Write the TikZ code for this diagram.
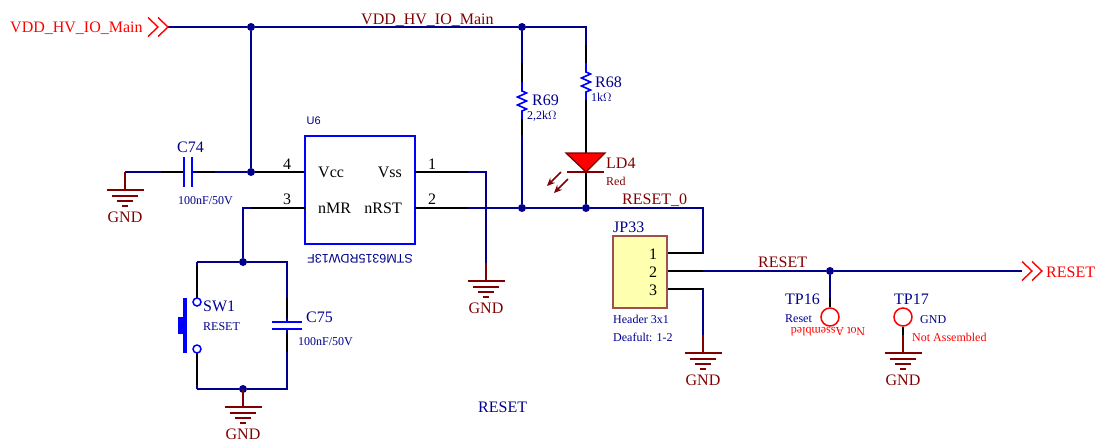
\documentclass[tikz,border=0pt]{standalone}
\usepackage{fontspec}
\setmainfont{Liberation Serif}
\setsansfont{Liberation Sans}
\usetikzlibrary{arrows.meta}

\definecolor{wirecol}{HTML}{00008C}
\definecolor{darkred}{HTML}{800000}
\definecolor{hdrfill}{HTML}{FFFFB0}
\definecolor{hdredge}{HTML}{A05050}

\tikzset{
	wire/.style={wirecol, line width=1.5pt},
	pinwire/.style={black, line width=1.5pt},
	partline/.style={blue, line width=1.6pt},
	dot/.style={circle, fill=wirecol, inner sep=0pt, minimum size=8pt},
	big/.style={font=\fontsize{16}{18}\selectfont, anchor=base west, inner sep=0pt},
	small/.style={font=\fontsize{12}{14}\selectfont, anchor=base west, inner sep=0pt},
	gndsym/.pic={
		\draw[darkred, line width=1.5pt] (0,0) -- (0,18);
		\draw[darkred, line width=1.5pt] (-18.5,18) -- (18.5,18);
		\draw[darkred, line width=1.5pt] (-13,24) -- (13,24);
		\draw[darkred, line width=1.5pt] (-8,29) -- (8,29);
		\draw[darkred, line width=1.5pt] (-3,34) -- (3,34);
		\node[big, anchor=base, darkred] (-txt) at (0,50) {GND};
	},
	chevrons/.pic={
		\draw[red, line width=1.4pt] (0,-9.5) -- (10,0) -- (0,9.5);
		\draw[red, line width=1.4pt] (10,-9.5) -- (20,0) -- (10,9.5);
	},
	reszig/.pic={
		\draw[partline] (0,0) -- (0,9) -- (4.5,11) -- (-4.5,15) -- (4.5,19) -- (-4.5,23) -- (4.5,27) -- (0,29) -- (0,37);
	},
}

\begin{document}
\begin{tikzpicture}[x=1pt, y=-1pt]
	\useasboundingbox (0,0) rectangle (1104,440);

	% 1. Net names (the wires run over their underscores)
	\node[big, darkred] (tVDDnet) at (361,24.5) {VDD\_HV\_IO\_Main};
	\node[big, darkred] (tRST0) at (622,204.5) {RESET\_0};

	% 2. Junctions
	\node[dot] (J1) at (251,27) {};
	\node[dot] (J2) at (522,27) {};
	\node[dot] (J3) at (251,172) {};
	\node[dot] (J4) at (522,208) {};
	\node[dot] (J5) at (586,208) {};
	\node[dot] (J6) at (243,262) {};
	\node[dot] (J7) at (243,389) {};
	\node[dot] (J8) at (830,271) {};

	% 3. Parts
	\node[draw=blue, line width=1.6pt, minimum width=110pt, minimum height=108pt, inner sep=0pt] (U6) at (360,190) {};
	\node[draw=hdredge, fill=hdrfill, line width=1.2pt, minimum width=54pt, minimum height=72pt, inner sep=0pt] (JP33) at (640,272) {};
	\node[circle, draw=red, line width=1.5pt, minimum size=18pt, inner sep=0pt] (TP16) at (830,317) {};
	\node[circle, draw=red, line width=1.5pt, minimum size=18pt, inner sep=0pt] (TP17) at (903,317) {};

	% Free ends of the wires
	\coordinate (VDDin) at (168,27);
	\coordinate (VDDcor) at (586,27);
	\coordinate (R69top) at (522,63);
	\coordinate (R69bot) at (522,119);
	\coordinate (R68top) at (586,63);
	\coordinate (R68bot) at (586,100);
	\coordinate (LEDtop) at (586,153);
	\coordinate (LEDbot) at (586,172);
	\coordinate (C74a) at (184,172);
	\coordinate (C74b) at (192,172);
	\coordinate (C75a) at (287,322);
	\coordinate (C75b) at (287,329);
	\coordinate (GNDa) at (125,172);
	\coordinate (GNDb) at (486,263);
	\coordinate (GNDc) at (703,335);
	\coordinate (GNDd) at (243,389);
	\coordinate (GNDe) at (903,335);
	\coordinate (RSTout) at (1022,271);

	% 4. Wires
	\draw[wire] (VDDin) -- (J1) -- (J2) -- (VDDcor) -- (R68top);
	\draw[wire] (J1) -- (J3);
	\draw[wire] (J2) -- (R69top);
	\draw[wire] (R69bot) -- (J4);
	\draw[wire] (U6.east |- J4) -- (J4) -- (J5) -- (703,208) -- (703,253) -- (JP33.east |- 0,253);
	\draw[wire] (U6.east |- 0,172) -- (GNDb |- 0,172) -- (GNDb);
	\draw[wire] (GNDa) -- (C74a);
	\draw[wire] (C74b) -- (J3) -- (U6.west |- J3);
	\draw[wire] (U6.west |- 0,208) -- (J6 |- 0,208) -- (J6);
	\draw[wire] (197,262) -- (J6) -- (C75a |- J6) -- (C75a);
	\draw[wire] (C75b) -- (C75b |- J7) -- (J7) -- (197,389);
	\draw[wire] (197,262) -- (197,302);
	\draw[wire] (197,389) -- (197,349);
	\draw[wire] (JP33.east |- J8) -- (J8) -- (RSTout);
	\draw[wire] (J8) -- (TP16);
	\draw[wire] (JP33.east |- 0,289) -- (703,289) -- (GNDc);

	% Black stubs over the wires
	\draw[pinwire] (161,172) -- (C74a);
	\draw[pinwire] (197,172) -- (215,172);
	\draw[pinwire] (J3) -- (U6.west |- J3);
	\draw[pinwire] (251,208) -- (305,208);
	\draw[pinwire] (415,172) -- (468,172);
	\draw[pinwire] (415,208) -- (468,208);
	\draw[pinwire] (R69top) -- (522,82);
	\draw[pinwire] (R69bot) -- (522,135);
	\draw[pinwire] (586,45) -- (R68top);
	\draw[pinwire] (R68bot) -- (LEDtop);
	\draw[pinwire] (LEDbot) -- (J5);
	\draw[pinwire] (703,253) -- (JP33.east |- 0,253);
	\draw[pinwire] (703,271) -- (JP33.east |- 0,271);
	\draw[pinwire] (703,289) -- (JP33.east |- 0,289);
	\draw[pinwire] (197,266) -- (197,302);
	\draw[pinwire] (197,385) -- (197,349);
	\draw[pinwire] (287,298) -- (287,318);
	\draw[pinwire] (287,333) -- (287,352);
	\draw[pinwire] (830,298) -- (TP16);
	\draw[pinwire] (TP17) -- (GNDe);

	% 5. Symbols
	\node[circle, draw=blue, fill=white, line width=1.5pt, minimum size=8pt, inner sep=0pt] (SWa) at (197,302) {};
	\node[circle, draw=blue, fill=white, line width=1.5pt, minimum size=8pt, inner sep=0pt] (SWb) at (197,349) {};
	\pic (G1) at (GNDa) {gndsym};
	\pic (G2) at (GNDb) {gndsym};
	\pic (G3) at (GNDc) {gndsym};
	\pic (G4) at (GNDd) {gndsym};
	\pic (G5) at (GNDe) {gndsym};
	\pic (A1) at (148,27) {chevrons};
	\pic (A2) at (1022,271) {chevrons};
	\pic (Z1) at (R68top) {reszig};
	\pic (Z2) at (522,82) {reszig};

	% Capacitors
	\draw[partline] (184,157) -- (184,187);
	\draw[partline] (192,157) -- (192,187);
	\draw[partline] (272,322) -- (302,322);
	\draw[partline] (272,329) -- (302,329);

	% Push button
	\draw[blue, line width=3.2pt] (185,298) -- (185,353);
	\fill[blue] (178,317) rectangle (185,334);

	% LED
	\draw[darkred, line width=1.3pt, fill=red] (566,153) -- (605,153) -- (586,172) -- cycle;
	\draw[darkred, line width=1.5pt] (567,172) -- (604,172);
	\draw[darkred, line width=1.6pt, -{Stealth[length=8pt,width=7pt]}] (561,172) -- (547,186);
	\draw[darkred, line width=1.6pt, -{Stealth[length=8pt,width=7pt]}] (568,179) -- (554,193);

	% 6. Texts
	\node[big, red] (tVDD) at (10,32) {VDD\_HV\_IO\_Main};
	\node[big, wirecol] (tC74) at (177,152) {C74};
	\node[small, wirecol] (tC74v) at (178,204) {100nF/50V};
	\node[font=\fontsize{11}{13}\selectfont\sffamily, anchor=base west, inner sep=0pt, wirecol] (tU6) at (306.5,124) {U6};
	\node[font=\fontsize{12.5}{14}\selectfont\sffamily, inner sep=0pt, wirecol, rotate=180] (tSTM) at (360,259) {STM6315RDW13F};
	\node[big] (tVcc) at (318,177) {Vcc};
	\node[big] (tnMR) at (318,213) {nMR};
	\node[big, anchor=base east] (tVss) at (402,177) {Vss};
	\node[big, anchor=base east] (tnRST) at (402,213) {nRST};
	\node[big] (t4) at (283,169) {4};
	\node[big] (t3) at (283,204) {3};
	\node[big] (t1) at (428,169) {1};
	\node[big] (t2) at (428,204) {2};
	\node[big, wirecol] (tSW1) at (203,311) {SW1};
	\node[small, wirecol] (tRST) at (203,330) {RESET};
	\node[big, wirecol] (tC75) at (306,322) {C75};
	\node[small, wirecol] (tC75v) at (298,345) {100nF/50V};
	\node[big, wirecol] (tR69) at (532,105) {R69};
	\node[small, wirecol] (tR69v) at (527,119) {2,2k$\Omega$};
	\node[big, wirecol] (tR68) at (595,87) {R68};
	\node[small, wirecol] (tR68v) at (591,101) {1k$\Omega$};
	\node[big, darkred] (tLD4) at (606,168) {LD4};
	\node[small, darkred] (tRed) at (606,185) {Red};
	\node[big, wirecol] (tJP33) at (613,232) {JP33};
	\node[big] (tp1) at (649,259) {1};
	\node[big] (tp2) at (649,277) {2};
	\node[big] (tp3) at (649,295) {3};
	\node[small, wirecol] (tHdr) at (613,323) {Header 3x1};
	\node[small, wirecol] (tDef) at (613,341) {Deafult: 1-2};
	\node[big, darkred] (tRSTnet) at (758,267) {RESET};
	\node[big, red] (tRSTout) at (1046,277) {RESET};
	\node[big, wirecol] (tTP16) at (785,304) {TP16};
	\node[small, wirecol] (tTP16v) at (785,322) {Reset};
	\node[small, red, anchor=center, rotate=180] (tNA1) at (828,332) {Not Assembled};
	\node[big, wirecol] (tTP17) at (894,304) {TP17};
	\node[small, wirecol] (tTP17v) at (920,323) {GND};
	\node[small, red] (tNA2) at (912,341) {Not Assembled};
	\node[big, wirecol] (tTitle) at (478,412) {RESET};

\end{tikzpicture}
\end{document}
